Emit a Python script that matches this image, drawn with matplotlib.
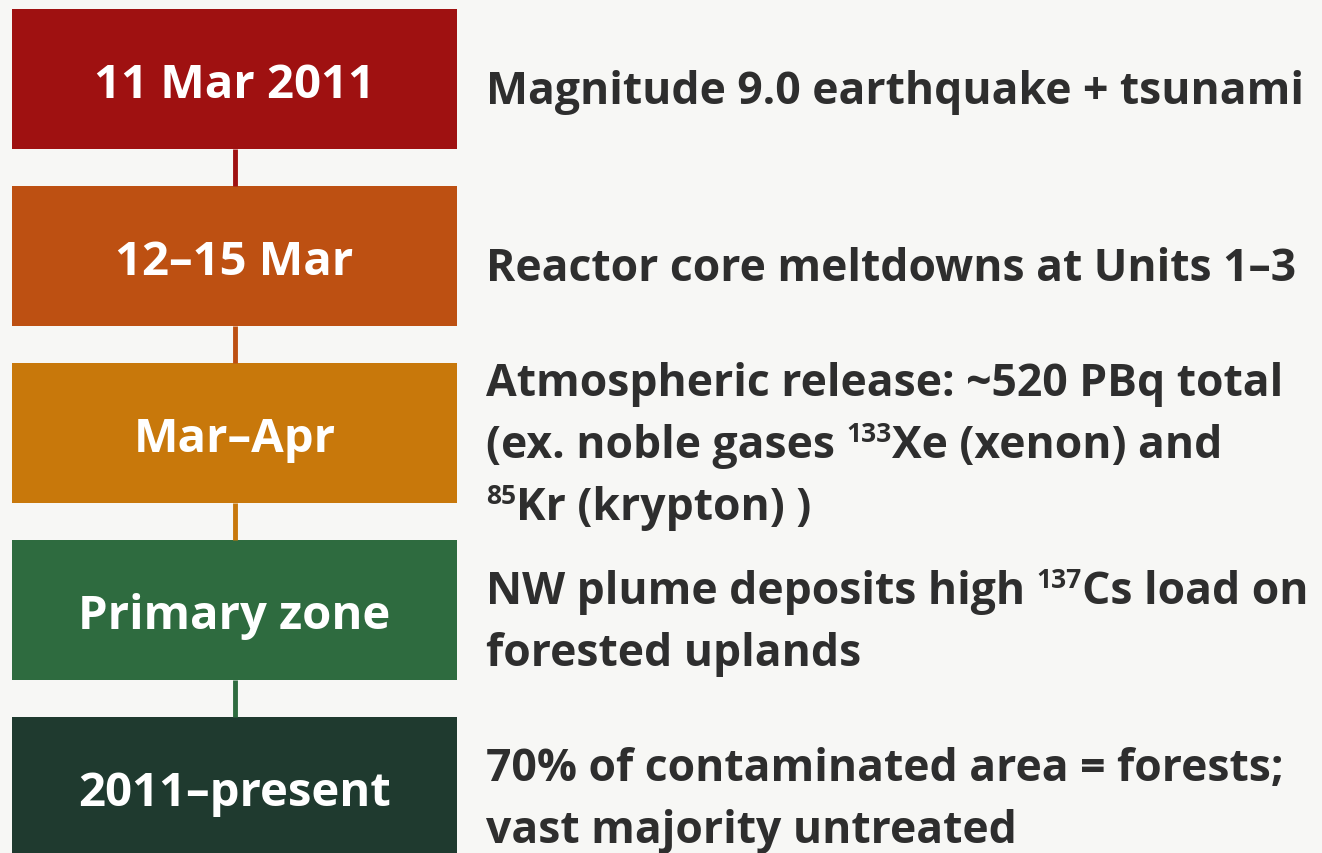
import re
import matplotlib
matplotlib.use("Agg")
import matplotlib.pyplot as plt
from matplotlib.patches import Rectangle

# timeline data
labels = ["11 Mar 2011", "12\u201315 Mar", "Mar\u2013Apr", "Primary zone", "2011\u2013present"]
colors = ["#9f1111", "#bd5012", "#c8780b", "#2e6b3f", "#1f3a2f"]
descriptions = [
    ["Magnitude 9.0 earthquake + tsunami"],
    ["Reactor core meltdowns at Units 1\u20133"],
    ["Atmospheric release: ~520 PBq total",
     "(ex. noble gases <sup>133</sup>Xe (xenon) and",
     "<sup>85</sup>Kr (krypton) )"],
    ["NW plume deposits high <sup>137</sup>Cs load on",
     "forested uplands"],
    ["70% of contaminated area = forests;",
     "vast majority untreated"],
]

BG = "#f7f7f5"
TXT = "#2e2e2e"
FONT = "Open Sans"

fig = plt.figure(figsize=(13.22, 8.54), dpi=100, facecolor=BG)
ax = fig.add_axes([0, 0, 1, 1])
ax.set_xlim(0, 1322)
ax.set_ylim(854, 0)
ax.axis("off")
ax.set_facecolor(BG)

box_x, box_w, box_h, pitch, top0 = 12, 445, 140, 177, 10
text_x = 486
line_gap = 62
fs_main = 32
fs_sup = 19

fig.canvas.draw()
renderer = fig.canvas.get_renderer()


def run_width(s, size):
    probe = ax.text(0, 0, s + "|", fontsize=size, fontweight="bold", family=FONT)
    bar = ax.text(0, 0, "|", fontsize=size, fontweight="bold", family=FONT)
    w = probe.get_window_extent(renderer).width - bar.get_window_extent(renderer).width
    probe.remove()
    bar.remove()
    return w


for i, (lab, col, desc) in enumerate(zip(labels, colors, descriptions)):
    y0 = top0 + i * pitch
    ax.add_patch(Rectangle((box_x, y0), box_w, box_h, facecolor=col, edgecolor="none"))
    if i < len(labels) - 1:
        ax.plot([box_x + box_w / 2] * 2, [y0 + box_h, y0 + pitch],
                color=col, lw=3.5, solid_capstyle="butt")
    cy = y0 + box_h / 2
    ax.text(box_x + box_w / 2, cy + 18, lab, ha="center", va="baseline",
            fontsize=34, fontweight="bold", color="white", family=FONT)

    n = len(desc)
    for k, line in enumerate(desc):
        base = cy + 24 + (k - (n - 1) / 2) * line_gap
        x = text_x
        parts = re.split(r"(<sup>.*?</sup>)", line)
        for p in parts:
            if not p:
                continue
            if p.startswith("<sup>"):
                s = p[5:-6]
                ax.text(x, base - 16, s, ha="left", va="baseline",
                        fontsize=fs_sup, fontweight="bold", color=TXT, family=FONT)
                x += run_width(s, fs_sup)
            else:
                ax.text(x, base, p, ha="left", va="baseline",
                        fontsize=fs_main, fontweight="bold", color=TXT, family=FONT)
                x += run_width(p, fs_main)

fig.savefig("out.png", dpi=100, facecolor=BG)
